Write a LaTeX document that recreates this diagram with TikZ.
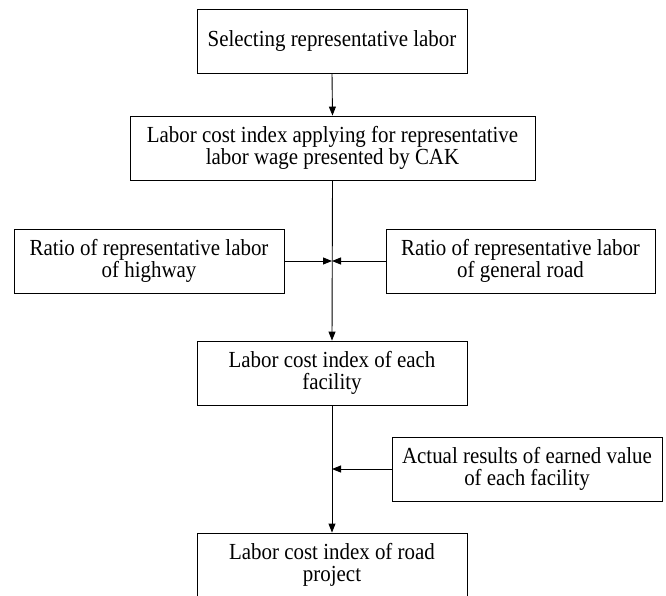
\documentclass[tikz,border=0pt]{standalone}
\usepackage{fontspec}
\setmainfont[FakeStretch=0.91]{Liberation Serif}
\usetikzlibrary{arrows.meta}
\begin{document}
\begin{tikzpicture}[x=1pt,y=-1pt,
  box/.style={draw, line width=0.9pt, inner sep=0pt, align=center,
    minimum height=64pt, font=\fontsize{23}{22}\selectfont},
  arr/.style={line width=0.9pt, -{Triangle[length=9pt,width=7pt]}},
  ln/.style={line width=0.9pt}]
\useasboundingbox (0,0) rectangle (666,595);
\clip (0,0) rectangle (666,595);
\node[box, minimum width=270pt] (b1) at (332,41) {Selecting representative labor};
\node[box, minimum width=405pt] (b2) at (332.5,148) {Labor cost index applying for representative\\labor wage presented by CAK};
\node[box, minimum width=270pt] (bl) at (149,261) {Ratio of representative labor\\of highway};
\node[box, minimum width=269pt] (br) at (520.5,261) {Ratio of representative labor\\of general road};
\node[box, minimum width=270pt] (b4) at (332,373) {Labor cost index of each\\facility};
\node[box, minimum width=270pt] (b5) at (527,469) {Actual results of earned value\\of each facility};
\node[box, minimum width=270pt] (b6) at (332,565) {Labor cost index of road\\project};
\coordinate (j1) at (332,261);
\coordinate (j2) at (332,469);
\draw[arr] (b1.south) -- (b2.north);
\draw[arr] (b2.south) -- (b4.north);
\draw[arr] (bl.east) -- (j1);
\draw[arr] (br.west) -- (j1);
\draw[arr] (b4.south) -- (b6.north);
\draw[arr] (b5.west) -- (j2);
\end{tikzpicture}
\end{document}
